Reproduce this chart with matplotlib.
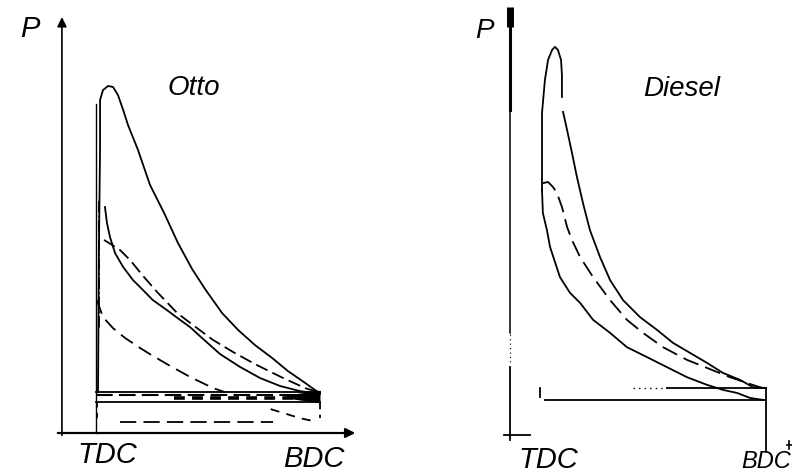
import matplotlib
matplotlib.use("Agg")
import matplotlib.pyplot as plt

W, H = 792, 475

# ---------------- data (V: 0 = TDC, 1 = BDC ; P: relative, peak = 100) -------------
otto_full_v = [0.009, 0.013, 0.018, 0.018, 0.031, 0.054, 0.076, 0.098, 0.121, 0.143, 0.1875,
               0.241, 0.304, 0.366, 0.429, 0.487, 0.5625, 0.634, 0.710, 0.786, 0.857,
               0.933, 0.978, 1.0]
otto_full_p = [11.8, 52.9, 81.8, 96.2, 99.1, 100.3, 100.0, 97.7, 93.4, 89.0, 81.8,
               71.7, 63.6, 54.9, 47.4, 41.6, 34.7, 29.8, 25.4, 21.7, 17.9,
               14.5, 12.4, 11.6]

otto_part_v = [0.040, 0.049, 0.0625, 0.085, 0.121, 0.165, 0.210, 0.254, 0.317, 0.375, 0.420,
               0.464, 0.554, 0.643, 0.732, 0.821, 0.911, 1.0]
otto_part_p = [65.3, 60.7, 56.6, 52.0, 48.0, 44.2, 41.3, 38.4, 35.5, 32.7, 30.6,
               28.0, 22.8, 19.1, 15.9, 13.6, 12.1, 11.3]

otto_part2_v = [0.036, 0.107, 0.152, 0.210, 0.272, 0.362, 0.433, 0.522, 0.612, 0.710, 0.835,
                0.933, 1.0]
otto_part2_p = [55.8, 52.9, 50.0, 45.4, 40.8, 34.7, 31.2, 26.9, 23.4, 19.9, 15.9,
                13.0, 11.6]

otto_low_v = [0.004, 0.031, 0.076, 0.129, 0.196, 0.241, 0.317, 0.420, 0.522, 0.576]
otto_low_p = [38.4, 33.5, 30.3, 27.5, 24.6, 22.8, 19.9, 16.2, 13.0, 11.8]

otto_ign_v = [0.013, 0.013]
otto_ign_p = [67.0, 30.0]

otto_exhaust_p = 11.8
otto_line2_p = 11.0
otto_line3_p = 10.1
otto_intake_p = 9.0
otto_throttle_v = [0.107, 0.79]
otto_throttle_p = 3.2
otto_blow_v = [0.78, 0.91, 0.987]
otto_blow_p = [6.9, 4.3, 3.2]

diesel_full_v = [0.0, 0.0, 0.0, 0.013, 0.027, 0.045, 0.058, 0.071, 0.085, 0.089, 0.089]
diesel_full_p = [63.1, 71.7, 83.1, 91.7, 96.9, 99.5, 100.3, 99.5, 96.9, 93.0, 87.3]

diesel_exp_v = [0.094, 0.112, 0.134, 0.156, 0.183, 0.214, 0.259, 0.304, 0.362, 0.4375,
                0.513, 0.585, 0.661, 0.737, 0.808, 0.884, 0.942, 1.0]
diesel_exp_p = [83.4, 78.7, 72.7, 66.5, 59.7, 52.7, 45.7, 39.7, 34.5, 30.1,
                26.8, 23.4, 20.8, 18.2, 15.6, 13.8, 11.9, 11.7]

diesel_mid_v = [0.004, 0.027, 0.049, 0.067, 0.089, 0.112, 0.134, 0.170, 0.228, 0.304, 0.379,
                0.451, 0.540, 0.647, 0.737, 0.839, 0.915, 0.982]
diesel_mid_p = [64.9, 65.2, 63.9, 62.3, 58.7, 53.5, 50.1, 45.7, 40.5, 34.5, 29.4,
                26.0, 22.3, 19.0, 16.9, 14.5, 13.0, 11.7]

diesel_low_v = [0.0, 0.004, 0.022, 0.036, 0.080, 0.125, 0.170, 0.228, 0.304, 0.379, 0.469,
                0.558, 0.647, 0.737, 0.808, 0.871, 0.929, 0.987, 1.0]
diesel_low_p = [63.1, 57.1, 52.7, 48.3, 40.5, 36.4, 33.8, 29.4, 26.0, 22.3, 19.7,
                17.1, 14.5, 12.5, 11.2, 10.4, 9.1, 8.6, 8.6]

diesel_exhaust_p = 11.7
diesel_intake_p = 8.6

fig = plt.figure(figsize=(W / 100, H / 100), dpi=100)
fig.patch.set_facecolor("white")


def panel(x_tdc, x_bdc, y_p0, y_p100):
    ax = fig.add_axes([0, 0, 1, 1])
    sx = (x_bdc - x_tdc)
    sy = (y_p0 - y_p100) / 100.0
    ax.set_xlim(-x_tdc / sx, (W - x_tdc) / sx)
    ax.set_ylim(-(H - y_p0) / sy, y_p0 / sy)
    ax.axis("off")
    ax.patch.set_alpha(0)
    return ax


K = "black"
LW = 1.3
DASH = (0, (7, 3))

# ---------------- Otto ----------------
ax = panel(96, 320, 433, 87)
ax.annotate("", xy=(-0.152, 121), xytext=(-0.152, -1.5),
            arrowprops=dict(arrowstyle="-|>", lw=1.2, color=K, mutation_scale=14))
ax.annotate("", xy=(1.17, 0), xytext=(-0.183, 0),
            arrowprops=dict(arrowstyle="-|>", lw=1.6, color=K, mutation_scale=14))
ax.plot([0, 0], [0, 95], color=K, lw=1.0)
ax.plot(otto_full_v, otto_full_p, color=K, lw=LW)
ax.plot(otto_part_v, otto_part_p, color=K, lw=LW)
ax.plot(otto_part2_v, otto_part2_p, color=K, lw=LW, linestyle=DASH)
ax.plot(otto_low_v, otto_low_p, color=K, lw=LW, linestyle=(0, (8, 4)))
ax.plot(otto_ign_v, otto_ign_p, color=K, lw=LW, linestyle="dashdot")
ax.plot([0, 1], [otto_exhaust_p] * 2, color=K, lw=LW)
ax.plot([0, 1], [otto_line2_p] * 2, color=K, lw=1.5, linestyle=(0, (8, 3)))
ax.plot([0.35, 1], [otto_line3_p] * 2, color=K, lw=2.6, linestyle=(0, (3, 2)))
ax.plot([0, 1], [otto_intake_p] * 2, color=K, lw=LW)
ax.fill_between([0.85, 1.0], [otto_line3_p, otto_intake_p - 0.3], [otto_line2_p, otto_exhaust_p + 0.6],
                color=K, lw=0)
ax.plot([1, 1], [otto_intake_p, 4.3], color=K, lw=LW, linestyle=(0, (4, 3)))
ax.plot([0.005, 0.005], [otto_intake_p, 3.5], color=K, lw=LW, linestyle=(0, (3, 3)))
ax.plot(otto_throttle_v, [otto_throttle_p] * 2, color=K, lw=LW, linestyle=(0, (9, 4)))
ax.plot(otto_blow_v, otto_blow_p, color=K, lw=LW, linestyle=(0, (5, 4)))

# ---------------- Diesel ----------------
ax2 = panel(542, 766, 433, 48)
ax2.plot([-0.143, -0.143], [105.5, 110.6], color=K, lw=5.0, solid_capstyle="butt")
ax2.plot([-0.143, -0.143], [84, 106], color=K, lw=2.2)
ax2.plot([-0.143, -0.143], [26, 84], color=K, lw=1.1)
ax2.plot([-0.143, -0.143], [18.5, 26], color=K, lw=0.8, linestyle=(0, (1, 3)))
ax2.plot([-0.143, -0.143], [-1.8, 17.1], color=K, lw=1.3)
ax2.plot([-0.17, -0.054], [-0.5, -0.5], color=K, lw=1.3)
ax2.plot(diesel_full_v, diesel_full_p, color=K, lw=LW)
ax2.plot(diesel_exp_v, diesel_exp_p, color=K, lw=LW)
ax2.plot(diesel_mid_v, diesel_mid_p, color=K, lw=LW, linestyle=(0, (9, 4)))
ax2.plot(diesel_low_v, diesel_low_p, color=K, lw=LW)
ax2.plot([0.406, 0.558], [diesel_exhaust_p] * 2, color=K, lw=1.0, linestyle=(0, (1, 3)))
ax2.plot([0.558, 1], [diesel_exhaust_p] * 2, color=K, lw=LW)
ax2.plot([0.013, 1], [diesel_intake_p] * 2, color=K, lw=LW)
ax2.plot([1, 1], [diesel_exhaust_p, -4.9], color=K, lw=LW)
ax2.plot([-0.009, -0.009], [diesel_exhaust_p, 9.3], color=K, lw=LW)
ax2.plot([1.094, 1.13], [-3.1, -3.1], color=K, lw=1.2)
ax2.plot([1.103, 1.103], [-2.0, -4.2], color=K, lw=1.2)

# ---------------- text ----------------
font = dict(family=["Liberation Sans", "DejaVu Sans"], style="italic", color=K)


def txt(x, y, s, size, ha="center"):
    fig.text(x / W, 1 - y / H, s, fontsize=size, ha=ha, va="center", **font)


txt(30, 29, "P", 21)
txt(194, 88, "Otto", 20)
txt(107, 455, "TDC", 21)
txt(314, 459, "BDC", 21)
txt(484, 31, "P", 20)
txt(682, 89, "Diesel", 20)
txt(548, 460, "TDC", 21)
txt(741, 462, "BDC", 17, ha="left")

fig.savefig("out.png", dpi=100, facecolor="white")
